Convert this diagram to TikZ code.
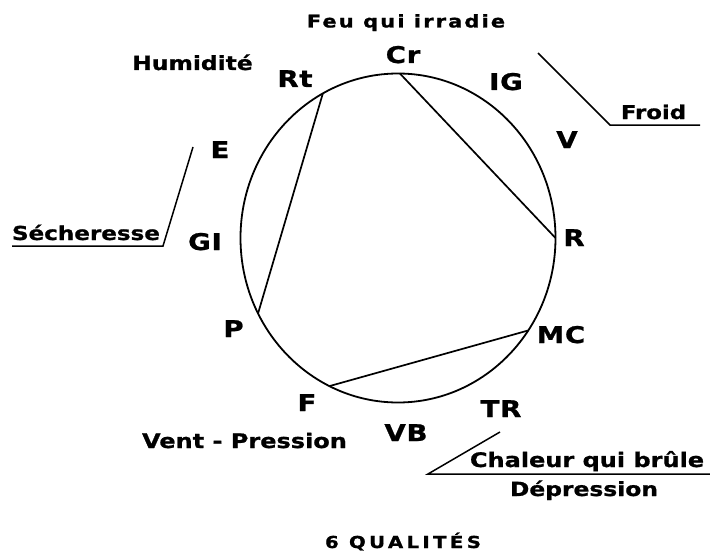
\documentclass[tikz,border=0pt]{standalone}
\usepackage{fontspec}
\setmainfont{DejaVu Sans}
\newfontfamily\fD{DejaVu Sans Bold}[FakeBold=1,FakeStretch=1.2]
\newcommand\qf[2]{\fD\addfontfeatures{LetterSpace=#2}\fontsize{#1}{#1}\selectfont}
\usetikzlibrary{calc}
\tikzset{
  lab/.style={font=\qf{23}{3}, inner sep=0pt, anchor=base},
  txt/.style={inner sep=0pt, anchor=base},
  ring/.style={line width=1.8pt},
  chord/.style={line width=1.7pt},
  leader/.style={line width=1.5pt},
}
\begin{document}
\begin{tikzpicture}[x=1pt,y=-1pt]
\useasboundingbox (0,0) rectangle (710,551);
\coordinate (O) at (398,238);
\draw[ring] (O) ellipse [x radius=157.5pt, y radius=164.5pt];
\coordinate (pCr) at ($(O)+(89.3:157.5pt and 164.5pt)$);
\coordinate (pR)  at ($(O)+(0:157.5pt and 164.5pt)$);
\coordinate (pRt) at ($(O)+(118.5:157.5pt and 164.5pt)$);
\coordinate (pP)  at ($(O)+(207.3:157.5pt and 164.5pt)$);
\coordinate (pMC) at ($(O)+(-34.2:157.5pt and 164.5pt)$);
\coordinate (pF)  at ($(O)+(244.2:157.5pt and 164.5pt)$);
\draw[chord] (pCr) -- (pR);
\draw[chord] (pRt) -- (pP);
\draw[chord] (pMC) -- (pF);
% labels on circle
\node[lab] (Cr) at (403,63) {Cr};
\node[lab] (Rt) at (295,87) {Rt};
\node[lab] (IG) at (506,90) {IG};
\node[lab] (V)  at (567,148) {V};
\node[lab] (E)  at (220,158) {E};
\node[lab] (GI) at (205,250) {GI};
\node[lab] (R)  at (574,246) {R};
\node[lab] (P)  at (233.5,337) {P};
\node[lab] (MC) at (561,343) {MC};
\node[lab] (F)  at (307,411) {F};
\node[lab] (TR) at (501,417) {TR};
\node[lab] (VB) at (406,441) {VB};
% qualities
\node[txt, font=\qf{17.5}{12}] (feu) at (406,27.5) {Feu qui irradie};
\node[txt, font=\qf{19.5}{0}] (hum) at (192.5,70) {Humidité};
\node[txt, font=\qf{19}{0}] (froid) at (653.5,119) {Froid};
\node[txt, font=\qf{19.2}{0}] (sech) at (86,240) {Sécheresse};
\node[txt, font=\qf{20}{0}] (vent) at (244.5,448) {Vent - Pression};
\node[txt, font=\qf{20}{0}] (chal) at (587,467) {Chaleur qui brûle};
\node[txt, font=\qf{19.5}{0}] (dep) at (584,496) {Dépression};
\node[txt, font=\qf{16.5}{20}] (qual) at (403,548) {6 QUALITÉS};
% leader lines
\coordinate (fa) at (538,53);
\coordinate (fb) at (610,125);
\coordinate (fc) at (700,125);
\draw[leader] (fa) -- (fb) -- (fc);
\coordinate (sa) at (193,147);
\coordinate (sb) at (163,246);
\coordinate (sc) at (12,246);
\draw[leader] (sa) -- (sb) -- (sc);
\coordinate (ca) at (500,432);
\coordinate (cb) at (428,474);
\coordinate (cc) at (710,474);
\draw[leader] (ca) -- (cb) -- (cc);
\end{tikzpicture}
\end{document}
